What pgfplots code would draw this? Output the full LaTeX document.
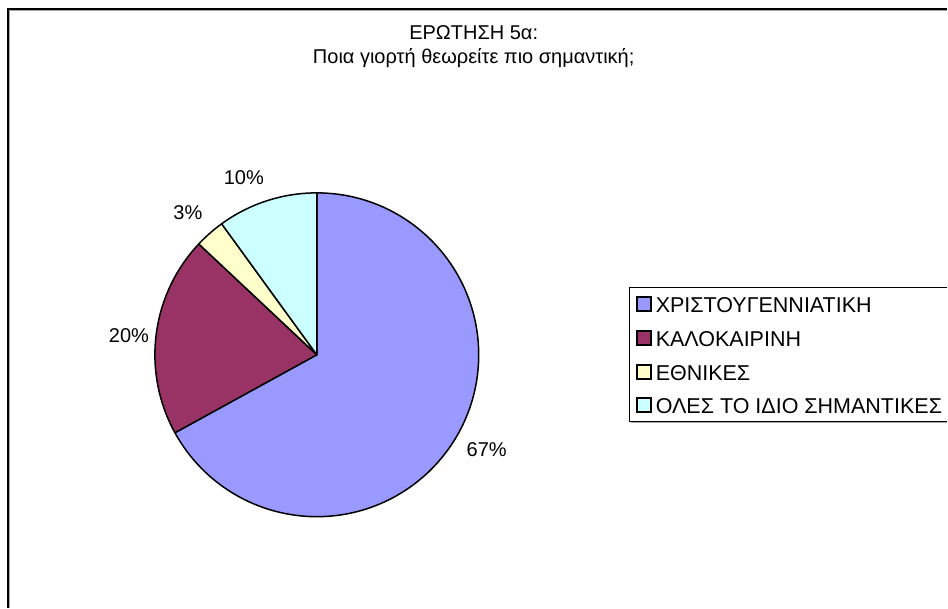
\documentclass[border=0pt]{standalone}
\usepackage{pgfplots}
\pgfplotsset{compat=1.18}
\usepackage{fontspec}
\setmainfont{Liberation Sans}
\definecolor{sA}{HTML}{9999FF}
\definecolor{sB}{HTML}{993366}
\definecolor{sC}{HTML}{FFFFCC}
\definecolor{sD}{HTML}{CCFFFF}
\tikzset{lbl/.style={font=\fontsize{20}{24}\selectfont},
  leg/.style={font=\fontsize{21.5}{25}\selectfont, anchor=west, inner sep=0pt},
  sq/.style={draw=black, line width=2pt}}
\begin{document}
\fontsize{20}{24}\selectfont
\begin{tikzpicture}
\begin{axis}[scale only axis, width=948pt, height=608pt,
  xmin=0, xmax=948, ymin=0, ymax=608, hide axis, clip=false]
\path (axis cs:0,0) rectangle (axis cs:948,608);
% chart border (only top and left inside the image)
\draw[gray!70, line width=1.2pt] (axis cs:9,0) -- (axis cs:9,598) -- (axis cs:948,598);
\draw[line width=1.2pt] (axis cs:8,0) -- (axis cs:8,599) -- (axis cs:948,599);
% title
\node[lbl, align=center] at (axis cs:474,561) {ΕΡΩΤΗΣΗ 5α:\\Ποια γιορτή θεωρείτε πιο σημαντική;};
% pie slices: values 67, 20, 3, 10 (percent), clockwise from 12 o'clock
\filldraw[fill=sA, draw=black, line width=1.5pt, line join=round] (axis cs:317,253) -- ++(90:162pt)
  arc[start angle=90, end angle={90-3.6*67}, radius=162pt] -- cycle;
\filldraw[fill=sB, draw=black, line width=1.5pt, line join=round] (axis cs:317,253) -- ++({90-3.6*67}:162pt)
  arc[start angle={90-3.6*67}, end angle={90-3.6*(67+20)}, radius=162pt] -- cycle;
\filldraw[fill=sC, draw=black, line width=1.5pt, line join=round] (axis cs:317,253) -- ++({90-3.6*87}:162pt)
  arc[start angle={90-3.6*87}, end angle={90-3.6*(87+3)}, radius=162pt] -- cycle;
\filldraw[fill=sD, draw=black, line width=1.5pt, line join=round] (axis cs:317,253) -- ++({90-3.6*90}:162pt)
  arc[start angle={90-3.6*90}, end angle={90-3.6*(90+10)}, radius=162pt] -- cycle;
% data labels
\node[lbl] at (axis cs:487,158) {67\%};
\node[lbl] at (axis cs:129,272) {20\%};
\node[lbl] at (axis cs:188,395) {3\%};
\node[lbl] at (axis cs:244,430) {10\%};
% legend
\draw[gray!70, line width=1pt] (axis cs:631,185) -- (axis cs:948,185);
\draw[line width=0.8pt] (axis cs:948,320) -- (axis cs:630,320) -- (axis cs:630,186) -- (axis cs:948,186);
\filldraw[fill=sA, sq] (axis cs:637,297) rectangle (axis cs:651,311);
\filldraw[fill=sB, sq] (axis cs:637,263) rectangle (axis cs:651,277);
\filldraw[fill=sC, sq] (axis cs:637,229) rectangle (axis cs:651,243);
\filldraw[fill=sD, sq] (axis cs:637,196) rectangle (axis cs:651,210);
\node[leg] at (axis cs:656,303) {ΧΡΙΣΤΟΥΓΕΝΝΙΑΤΙΚΗ};
\node[leg] at (axis cs:656,269) {ΚΑΛΟΚΑΙΡΙΝΗ};
\node[leg] at (axis cs:656,235) {ΕΘΝΙΚΕΣ};
\node[leg] at (axis cs:656,202) {ΟΛΕΣ ΤΟ ΙΔΙΟ ΣΗΜΑΝΤΙΚΕΣ};
\end{axis}
\end{tikzpicture}
\end{document}
